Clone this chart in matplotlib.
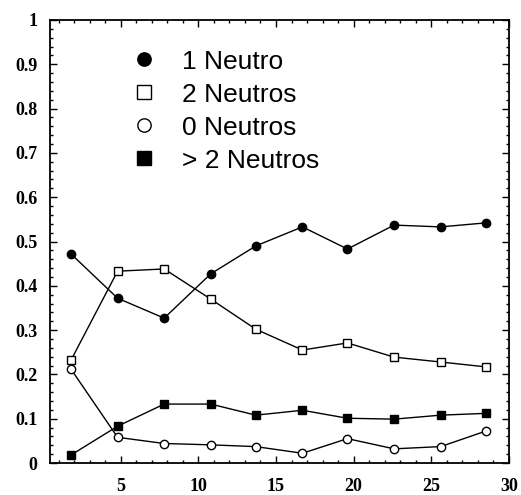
import matplotlib
matplotlib.use("Agg")
import matplotlib.pyplot as plt
from matplotlib.ticker import MultipleLocator
from matplotlib.lines import Line2D

x = [1.8, 4.8, 7.8, 10.8, 13.7, 16.7, 19.6, 22.6, 25.6, 28.5]
uno = [0.472, 0.372, 0.327, 0.427, 0.490, 0.533, 0.483, 0.537, 0.533, 0.542]
dos = [0.232, 0.433, 0.438, 0.370, 0.302, 0.255, 0.271, 0.239, 0.228, 0.217]
cero = [0.212, 0.058, 0.044, 0.041, 0.037, 0.022, 0.055, 0.032, 0.037, 0.072]
mas = [0.018, 0.083, 0.133, 0.133, 0.108, 0.119, 0.101, 0.099, 0.108, 0.112]

labels = ["1 Neutro", "2 Neutros", "0 Neutros", "> 2 Neutros"]
xticks = [5, 10, 15, 20, 25, 30]
yticks = [0, 0.1, 0.2, 0.3, 0.4, 0.5, 0.6, 0.7, 0.8, 0.9, 1]
yticklabels = ["0", "0.1", "0.2", "0.3", "0.4", "0.5", "0.6", "0.7", "0.8", "0.9", "1"]

fig = plt.figure(figsize=(5.21, 4.95), dpi=100)
ax = fig.add_axes([50/521, 32/495, 459/521, 443/495])

ms = 6
ax.plot(x, uno, '-', color='black', lw=1.0, marker='o', ms=ms, mfc='black', mec='black', label=labels[0])
ax.plot(x, dos, '-', color='black', lw=1.0, marker='s', ms=ms, mfc='white', mec='black', mew=1.0, label=labels[1])
ax.plot(x, cero, '-', color='black', lw=1.0, marker='o', ms=ms, mfc='white', mec='black', mew=1.0, label=labels[2])
ax.plot(x, mas, '-', color='black', lw=1.0, marker='s', ms=ms, mfc='black', mec='black', label=labels[3])

ax.set_xlim(0.45, 29.9)
ax.set_ylim(0, 1)
ax.set_xticks(xticks)
ax.set_yticks(yticks)
ax.set_yticklabels(yticklabels)
ax.xaxis.set_minor_locator(MultipleLocator(1))
ax.yaxis.set_minor_locator(MultipleLocator(0.02))
ax.tick_params(which='both', direction='in', top=True, right=True, width=1.0)
ax.tick_params(which='major', length=5)
ax.tick_params(which='minor', length=2.5)
ax.tick_params(axis='y', pad=9)
ax.tick_params(axis='x', pad=11)
for lab in ax.get_xticklabels() + ax.get_yticklabels():
    lab.set_fontfamily('Liberation Serif')
    lab.set_fontweight('bold')
    lab.set_fontsize(13)
for sp in ax.spines.values():
    sp.set_linewidth(1.3)

handles, labs = ax.get_legend_handles_labels()
hs = []
for h in handles:
    hs.append(Line2D([], [], linestyle='none', marker=h.get_marker(),
                     mfc=h.get_markerfacecolor(), mec='black', ms=ms))
leg = ax.legend(hs, labs, loc='upper left', bbox_to_anchor=(0.153, 0.957), frameon=False,
                prop={'family': 'Liberation Sans', 'size': 19}, markerscale=1.6,
                handlelength=1.0, handletextpad=0.94, labelspacing=0.34, borderaxespad=0)

fig.savefig("out.png", dpi=100)
